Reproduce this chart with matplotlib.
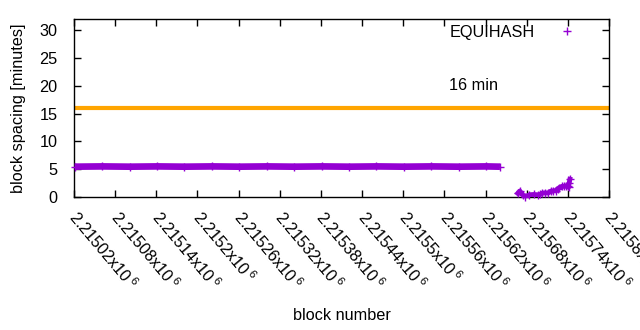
import matplotlib
matplotlib.use("Agg")
import matplotlib.pyplot as plt
from matplotlib.lines import Line2D
import numpy as np

plt.rcParams['font.family'] = ['Liberation Sans', 'DejaVu Sans']
plt.rcParams['mathtext.fontset'] = 'custom'
plt.rcParams['mathtext.rm'] = 'Liberation Sans'
plt.rcParams['mathtext.it'] = 'Liberation Sans'

# block spacing, first run (sampled along the band)
blocks_a = [2215021, 2215061, 2215101, 2215141, 2215181, 2215221, 2215261, 2215301,
            2215341, 2215381, 2215421, 2215461, 2215501, 2215541, 2215581, 2215621, 2215641]
spacing_a = [5.45, 5.5, 5.45, 5.5, 5.45, 5.5, 5.45, 5.5,
             5.45, 5.5, 5.45, 5.5, 5.45, 5.5, 5.45, 5.5, 5.45]

# block spacing, second run (after the gap)
blocks_b = [2215667, 2215670, 2215674, 2215678, 2215684, 2215690, 2215696, 2215699,
            2215703, 2215707, 2215711, 2215715, 2215719, 2215723, 2215725, 2215727,
            2215731, 2215735, 2215738, 2215740, 2215741, 2215742, 2215743]
spacing_b = [0.66, 1.08, 0.4, 0.05, 0.4, 0.45, 0.4, 0.45,
             0.7, 0.75, 0.7, 1.05, 1.1, 1.1, 1.5, 1.6,
             1.9, 1.95, 1.9, 2.0, 1.74, 2.57, 3.2]

target = 16
xticks = [2215020 + 60 * i for i in range(14)]
purple = '#9400D3'
orange = '#FFA500'
fs = 11.7

fig = plt.figure(figsize=(6.4, 3.3), dpi=100)
ax = fig.add_axes([74/640, 1-197/330, (609-74)/640, (197-19)/330])

ax.axhline(target, color=orange, lw=3, zorder=2)
ax.plot(blocks_a, spacing_a, color=purple, lw=4.8, solid_capstyle='butt', zorder=3)
ax.plot(blocks_a, spacing_a, '+', color=purple, ms=5.5, mew=1, zorder=3, clip_on=False)
ax.plot(blocks_b, spacing_b, color=purple, lw=3.5, zorder=3)
ax.plot(blocks_b, spacing_b, '+', color=purple, ms=5.5, mew=1, zorder=3, clip_on=False)

ax.text(2215567, 20, '16 min', fontsize=fs, va='center', ha='left')

ax.set_xlim(2215020, 2215800)
ax.set_ylim(0, 32)
ax.set_yticks(range(0, 31, 5))
ax.set_xticks(xticks)
labels = [('%g' % (x / 1e6)) + r'x10$\,^{6}$' for x in xticks]
ax.set_xticklabels(labels, rotation=-50, ha='left', va='center_baseline', rotation_mode='anchor', fontsize=fs)
for t in ax.get_yticklabels():
    t.set_fontsize(fs)
ax.tick_params(direction='in', top=True, right=True, length=5, width=1)
ax.tick_params(axis='y', pad=12)
ax.tick_params(axis='x', pad=11)
for s in ax.spines.values():
    s.set_linewidth(1)

ax.set_xlabel('block number', fontsize=fs)
ax.xaxis.set_label_coords(0.5, -0.625)
ax.set_ylabel('block spacing [minutes]', fontsize=fs)
ax.yaxis.set_label_coords(-0.089, 0.5)

h = Line2D([], [], color=purple, marker='+', ls='none', ms=5.5, mew=1)
ax.legend([h], ['EQUIHASH'], loc='upper right', frameon=False, markerfirst=False,
          fontsize=fs, bbox_to_anchor=(0.979, 1.05), handletextpad=1.0)

fig.savefig('out.png', dpi=100)
